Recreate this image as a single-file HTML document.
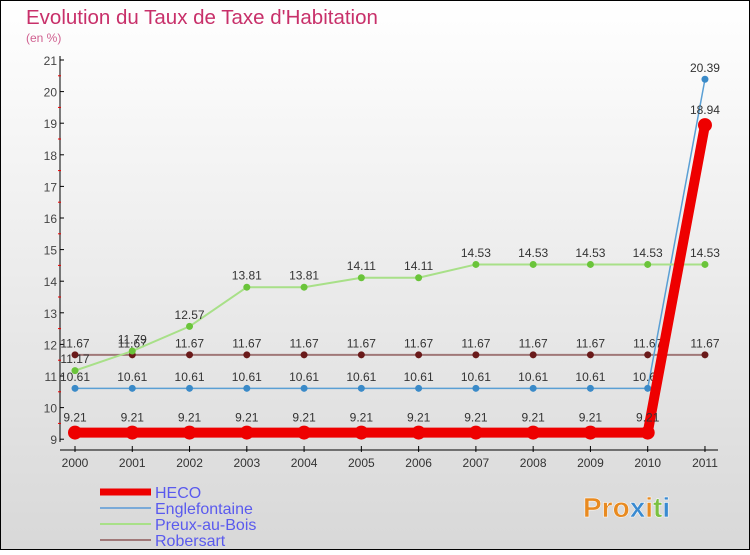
<!DOCTYPE html>
<html><head><meta charset="utf-8">
<style>
html,body{margin:0;padding:0}
body{width:750px;height:550px;overflow:hidden;font-family:"Liberation Sans","DejaVu Sans",sans-serif}
</style></head>
<body>
<svg id="chart" width="750" height="550" xmlns="http://www.w3.org/2000/svg">
<defs>
<linearGradient id="bg" x1="0" y1="0" x2="0" y2="1">
<stop offset="0" stop-color="#ffffff"/><stop offset="1" stop-color="#d8d8d8"/>
</linearGradient>
</defs>
<rect x="0.5" y="0.5" width="749" height="549" fill="url(#bg)" stroke="#000" stroke-width="1"/>
<text x="26" y="24" font-size="20.5" fill="#c8306a">Evolution du Taux de Taxe d'Habitation</text>
<text x="26" y="42" font-size="12" fill="#d06090">(en %)</text>
<g id="axes"></g>
<g id="series"></g>
<g id="legend"></g>
<g>
<text x="583" y="517" font-size="28" font-weight="bold" fill="#e88a20" stroke="#fff" stroke-width="0.5">Pro<tspan fill="#3a8ad0">x</tspan><tspan fill="#e88a20">i</tspan><tspan fill="#7ac040">t</tspan><tspan fill="#3a8ad0">i</tspan></text>
</g>
</svg>
<script>
const years=["2000","2001","2002","2003","2004","2005","2006","2007","2008","2009","2010","2011"];
const yTicks=[9,10,11,12,13,14,15,16,17,18,19,20,21];
const heco=[9.21,9.21,9.21,9.21,9.21,9.21,9.21,9.21,9.21,9.21,9.21,18.94];
const engle=[10.61,10.61,10.61,10.61,10.61,10.61,10.61,10.61,10.61,10.61,10.61,20.39];
const preux=[11.17,11.79,12.57,13.81,13.81,14.11,14.11,14.53,14.53,14.53,14.53,14.53];
const robersart=[11.67,11.67,11.67,11.67,11.67,11.67,11.67,11.67,11.67,11.67,11.67,11.67];
const NS="http://www.w3.org/2000/svg";
function X(i){return 75+i*57.27;}
function Y(v){return 439.2-(v-9)*31.6;}
function mk(tag,attrs,parent){const e=document.createElementNS(NS,tag);for(const k in attrs)e.setAttribute(k,attrs[k]);parent.appendChild(e);return e;}
const axes=document.getElementById('axes');
mk('line',{x1:60,y1:56,x2:60,y2:442,stroke:'#000','stroke-width':1},axes);
mk('line',{x1:60,y1:450,x2:718,y2:450,stroke:'#000','stroke-width':1},axes);
yTicks.forEach((t,i)=>{
 mk('line',{x1:60,y1:Y(t),x2:64,y2:Y(t),stroke:'#000'},axes);
 if(i<yTicks.length-1) mk('line',{x1:58,y1:Y(t+0.5),x2:61,y2:Y(t+0.5),stroke:'#e00'},axes);
 const tx=mk('text',{x:57,y:Y(t)+5,'font-size':12,fill:'#444','text-anchor':'end'},axes);
 
 
 tx.textContent=t;
});
years.forEach((yr,i)=>{
 mk('line',{x1:X(i),y1:446,x2:X(i),y2:452,stroke:'#000'},axes);
 const tx=mk('text',{x:X(i),y:467,'font-size':12,fill:'#333','text-anchor':'middle'},axes);
 
 
 tx.textContent=yr;
});
const ser=document.getElementById('series');
function draw(name,data,line,lw,mfill,r){
 const g=mk('g',{},ser);
 
 
 mk('polyline',{points:data.map((v,i)=>X(i)+','+Y(v)).join(' '),fill:'none',stroke:line,'stroke-width':lw,'stroke-linejoin':'round'},g);
 data.forEach((v,i)=>{
  const c=mk('circle',{cx:X(i),cy:Y(v),r:r,fill:mfill},g);
  
  
  const t=mk('text',{x:X(i),y:Y(v)-(r+4),'font-size':12,fill:'#333','text-anchor':'middle'},g);
  
  
  t.textContent=v;
 });
}
draw('robersart',robersart,'#a07878',2,'#6a1a1a',3.5);
draw('englefontaine',engle,'#5a9fd4',1.5,'#3a8ac8',3.5);
draw('preux-au-bois',preux,'#a8e088',2,'#6ac43a',3.5);
draw('heco',heco,'#ee0000',10,'#ee0000',7);
const lg=document.getElementById('legend');
const items=[["HECO","#ee0000",7],["Englefontaine","#7aaad8",2],["Preux-au-Bois","#a8e088",2],["Robersart","#a07878",2]];
items.forEach((it,i)=>{
 const y=492+i*16;
 const g=mk('g',{},lg);
 
 
 mk('line',{x1:100,y1:y,x2:151,y2:y,stroke:it[1],'stroke-width':it[2]},g);
 const t=mk('text',{x:155,y:y+6,'font-size':16,fill:'#5a5aee'},g);
 t.textContent=it[0];
});
</script>
</body></html>
